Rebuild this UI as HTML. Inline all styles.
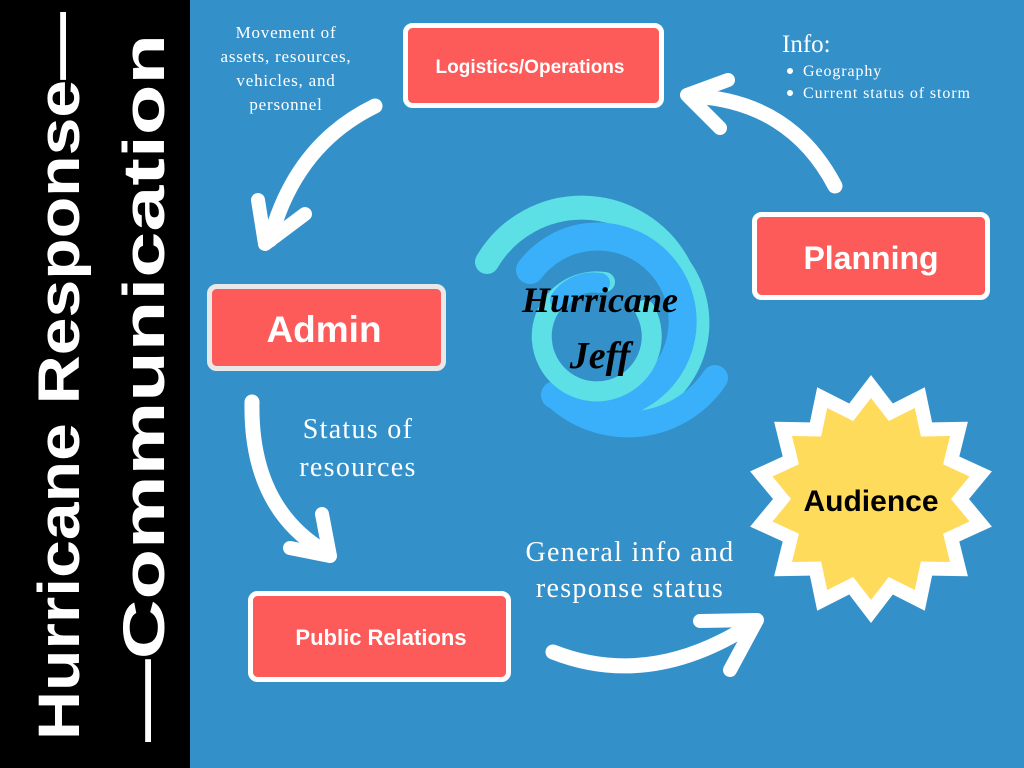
<!DOCTYPE html>
<html><head><meta charset="utf-8"><style>
html,body{margin:0;padding:0;width:1024px;height:768px;overflow:hidden;background:#3390c9}
svg{display:block}
.serif{font-family:"Liberation Serif","DejaVu Serif",serif;fill:#fff}
.box{font-family:"Liberation Sans",sans-serif;font-weight:bold;fill:#fff;text-anchor:middle}
</style></head><body>
<svg width="1024" height="768" viewBox="0 0 1024 768" xmlns="http://www.w3.org/2000/svg">
<rect x="0" y="0" width="1024" height="768" fill="#3390c9"/>
<rect x="0" y="0" width="190" height="768" fill="#000"/>
<text transform="translate(79,740) rotate(-90)" font-family="'Liberation Sans',sans-serif" font-weight="bold" font-size="58" fill="#fff" textLength="728" lengthAdjust="spacingAndGlyphs">Hurricane Response—</text>
<text transform="translate(164,742) rotate(-90)" font-family="'Liberation Sans',sans-serif" font-weight="bold" font-size="58" fill="#fff" textLength="708" lengthAdjust="spacingAndGlyphs">—Communication</text>

<!-- hurricane -->
<g fill="none" stroke-linecap="round">
<path d="M487,262 A110,110 0 0 1 680,268" stroke="#5ce0e6" stroke-width="24"/>
<path d="M680,268 A95,95 0 0 1 650,405" stroke="#5ce0e6" stroke-width="24"/>
<path d="M530,270 A85,85 0 1 1 555,395" stroke="#3ab0fa" stroke-width="28"/>
<path d="M555,395 A105,105 0 0 0 715,378" stroke="#3ab0fa" stroke-width="26"/>
<path d="M645,310 A55,55 0 1 1 605,282" stroke="#5ce0e6" stroke-width="20"/>
<path d="M560,300 A40,40 0 0 1 600,283" stroke="#3ab0fa" stroke-width="20"/>
</g>
<text x="600" y="312" text-anchor="middle" font-family="Liberation Serif,serif" font-style="italic" font-weight="bold" font-size="36" fill="#000">Hurricane</text>
<text x="600" y="368" text-anchor="middle" font-family="Liberation Serif,serif" font-style="italic" font-weight="bold" font-size="38" fill="#000">Jeff</text>

<!-- boxes -->
<rect x="405.5" y="25.5" width="256" height="80" rx="7" fill="#fd5a5a" stroke="#fff" stroke-width="5"/>
<text class="box" x="530" y="73" font-size="19">Logistics/Operations</text>
<rect x="754.5" y="214.5" width="233" height="83" rx="7" fill="#fd5a5a" stroke="#fff" stroke-width="5"/>
<text class="box" x="871" y="269" font-size="32">Planning</text>
<rect x="209.5" y="286.5" width="234" height="82" rx="7" fill="#fd5a5a" stroke="#e8e8e8" stroke-width="5"/>
<text class="box" x="324" y="342" font-size="37">Admin</text>
<rect x="250.5" y="593.5" width="258" height="86" rx="7" fill="#fd5a5a" stroke="#fff" stroke-width="5"/>
<text class="box" x="381" y="645" font-size="22">Public Relations</text>

<!-- star -->
<polygon id="s1" fill="#fff"/>
<polygon id="s2" fill="#fedb5a"/>
<text x="871" y="511" text-anchor="middle" font-family="'Liberation Sans',sans-serif" font-weight="bold" font-size="30" fill="#000">Audience</text>

<!-- arrows -->
<g fill="none" stroke="#fff" stroke-linecap="round" stroke-linejoin="round">
<path d="M375,106 Q295,145 270,240" stroke-width="15"/>
<polyline points="258,200 265,244 305,214" stroke-width="14"/>
<path d="M835,186 Q790,100 690,96" stroke-width="15"/>
<polyline points="728,80 687,95 720,128" stroke-width="14"/>
<path d="M252,402 Q250,505 322,550" stroke-width="15"/>
<polyline points="290,548 330,556 322,514" stroke-width="14"/>
<path d="M553,652 Q650,690 752,624" stroke-width="15"/>
<polyline points="700,621 757,620 730,670" stroke-width="14"/>
</g>

<!-- labels -->
<g class="serif" font-size="17" text-anchor="middle" letter-spacing="0.8">
<text x="286" y="38">Movement of</text>
<text x="286" y="62">assets, resources,</text>
<text x="286" y="86">vehicles, and</text>
<text x="286" y="110">personnel</text>
</g>
<text class="serif" x="782" y="52" font-size="25">Info:</text>
<g class="serif" font-size="16" letter-spacing="0.9">
<circle cx="790" cy="71" r="3" fill="#fff"/><text x="803" y="76">Geography</text>
<circle cx="790" cy="93" r="3" fill="#fff"/><text x="803" y="98">Current status of storm</text>
</g>
<g class="serif" font-size="28" text-anchor="middle" letter-spacing="1.3">
<text x="358" y="438">Status of</text>
<text x="358" y="476">resources</text>
<text x="630" y="561">General info and</text>
<text x="630" y="597">response status</text>
</g>
</svg>
<script>
function star(id,cx,cy,ro,ri,n){var p=[];for(var i=0;i<2*n;i++){var a=-Math.PI/2+i*Math.PI/n;var r=i%2?ri:ro;p.push((cx+r*Math.cos(a)).toFixed(1)+","+(cy+r*Math.sin(a)).toFixed(1));}document.getElementById(id).setAttribute("points",p.join(" "));}
star("s1",871,499,124,98,14);
star("s2",871,499,101,80,14);
</script>
</body></html>
